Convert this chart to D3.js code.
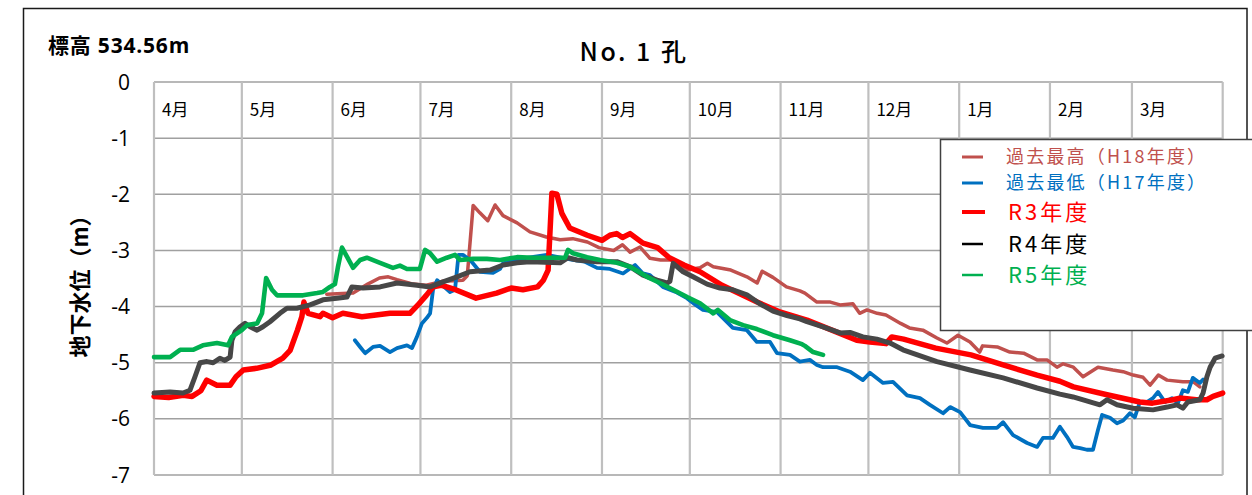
<!DOCTYPE html>
<html><head><meta charset="utf-8">
<script src="https://cdn.jsdelivr.net/npm/d3@7"></script>
<style>
body{margin:0;background:#fff;}
svg{display:block;font-family:"Noto Sans CJK JP","Noto Sans",sans-serif;}
</style></head><body>
<svg id="c" width="1252" height="495"></svg>
<script>
// ---- data ----
const monthLabels = ["4月","5月","6月","7月","8月","9月","10月","11月","12月","1月","2月","3月"];
const monthDays = [30,31,30,31,31,30,31,30,31,31,28,31];
const yTicks = [0,-1,-2,-3,-4,-5,-6,-7];
const seriesNames = ["過去最高（H18年度）","過去最低（H17年度）","R3年度","R4年度","R5年度"];

// [day from Apr 1, level (m)]
const h18 = [[59,-3.78],[68,-3.76],[73,-3.6],[77,-3.49],[80,-3.47],[83,-3.52],[88.5,-3.6],[93,-3.62],[98.7,-3.55],[105.5,-3.53],[107,-3.45],[109,-2.2],[111.3,-2.33],[114,-2.47],[116.5,-2.19],[119.2,-2.38],[124,-2.51],[128.4,-2.67],[134,-2.76],[138.7,-2.81],[143,-2.79],[148,-2.85],[152,-2.95],[157,-3.0],[160,-2.9],[162.6,-3.03],[166,-2.94],[169.4,-3.14],[173,-3.17],[177,-3.17],[182,-3.35],[186.5,-3.31],[189,-3.23],[191,-3.29],[197,-3.35],[202.5,-3.47],[206,-3.58],[207.7,-3.37],[211.4,-3.48],[216,-3.65],[220.6,-3.72],[222.3,-3.76],[226.4,-3.92],[231,-3.92],[234.3,-3.97],[238.7,-3.95],[241,-4.12],[243.5,-4.06],[247,-4.12],[250,-4.15],[255,-4.3],[258,-4.38],[262.6,-4.42],[267.4,-4.56],[270.8,-4.65],[274.6,-4.51],[278.7,-4.63],[282,-4.81],[283,-4.7],[288,-4.72],[292.3,-4.81],[297,-4.83],[301.6,-4.95],[305,-4.95],[308.4,-5.08],[310.5,-5.02],[314,-5.08],[317.3,-5.25],[322.4,-5.08],[327.5,-5.13],[331,-5.16],[334.4,-5.22],[337.8,-5.26],[340.2,-5.4],[343,-5.22],[346,-5.31],[351.4,-5.34],[355,-5.34],[357.2,-5.43]];

const h17 = [[68.6,-4.6],[70.4,-4.72],[72.1,-4.83],[74.8,-4.72],[77.2,-4.7],[80.6,-4.81],[83,-4.74],[86.4,-4.69],[88.1,-4.74],[89.8,-4.54],[91.5,-4.3],[93.2,-4.2],[94.3,-4.12],[95.3,-3.7],[96.7,-3.53],[98.7,-3.63],[101.1,-3.74],[102.8,-3.7],[104,-3.08],[105.5,-3.08],[108,-3.17],[111.3,-3.38],[115.8,-3.4],[118.2,-3.33],[119.2,-3.23],[125,-3.15],[134.2,-3.08],[143,-3.17],[147,-3.2],[151.3,-3.31],[155.7,-3.33],[160.2,-3.41],[164.3,-3.26],[167,-3.41],[169.4,-3.44],[173.8,-3.65],[178.6,-3.75],[182,-3.85],[185,-3.97],[187.5,-4.06],[192.3,-4.1],[197.7,-4.38],[202.5,-4.42],[205.9,-4.63],[210.4,-4.63],[212.8,-4.83],[217.2,-4.86],[220.6,-4.98],[224,-4.95],[226.4,-5.04],[228.5,-5.08],[233.3,-5.08],[237.7,-5.16],[242.1,-5.31],[244.5,-5.18],[249,-5.36],[252.4,-5.34],[257.2,-5.58],[261.6,-5.63],[265,-5.75],[269.5,-5.9],[271.9,-5.79],[275.3,-5.88],[278.7,-6.11],[283.1,-6.16],[287.9,-6.16],[290,-6.06],[293.4,-6.29],[298.2,-6.43],[301.6,-6.5],[303.6,-6.34],[307,-6.34],[309.4,-6.14],[311.8,-6.32],[313.9,-6.5],[316.3,-6.52],[318.6,-6.55],[320.7,-6.55],[322.4,-6.2],[323.8,-5.93],[326.5,-5.98],[328.9,-6.08],[331,-6.03],[333.3,-5.9],[335,-5.97],[336.7,-5.7],[339.1,-5.7],[341.2,-5.63],[342.9,-5.52],[345.3,-5.7],[347.7,-5.63],[349.7,-5.72],[351.4,-5.49],[353.1,-5.52],[354.8,-5.27],[357.2,-5.36],[358.3,-5.3]];

const r3 = [[0,-5.6],[5,-5.62],[10,-5.58],[13,-5.6],[16,-5.5],[18,-5.31],[21.5,-5.4],[26,-5.4],[28,-5.25],[30.5,-5.13],[35,-5.1],[40,-5.04],[44,-4.92],[46.5,-4.78],[49,-4.42],[50.5,-4.18],[51.2,-3.92],[52.6,-4.12],[56.7,-4.18],[57.7,-4.12],[61,-4.2],[64.5,-4.12],[71,-4.18],[80.6,-4.12],[87.4,-4.12],[90,-3.98],[93,-3.8],[95.3,-3.65],[98,-3.62],[103,-3.7],[110,-3.85],[117,-3.76],[122,-3.67],[126,-3.7],[131,-3.65],[133,-3.53],[134.6,-3.35],[135.9,-1.98],[137.6,-2.0],[139.3,-2.34],[142,-2.6],[148,-2.73],[153,-2.82],[155.7,-2.73],[158,-2.7],[160,-2.77],[162.6,-2.7],[167,-2.87],[172,-2.95],[176,-3.13],[181,-3.26],[186.5,-3.38],[194,-3.62],[206,-3.92],[214,-4.1],[223,-4.24],[233,-4.45],[240,-4.6],[244.5,-4.63],[250,-4.66],[252,-4.54],[256,-4.58],[267,-4.74],[279,-4.86],[290,-5.04],[301.6,-5.22],[309.4,-5.33],[314,-5.43],[325.5,-5.57],[336.7,-5.7],[341,-5.72],[348,-5.66],[350.4,-5.63],[356,-5.66],[359.6,-5.66],[361.7,-5.6],[365,-5.54]];

const r4 = [[0,-5.54],[5.5,-5.52],[9.9,-5.54],[12.3,-5.49],[14,-5.25],[15.7,-5.0],[18.1,-4.98],[20.2,-5.0],[22.5,-4.92],[24.2,-4.96],[26,-4.9],[26.6,-4.6],[27.7,-4.45],[29.4,-4.36],[31.1,-4.3],[32.8,-4.36],[35.2,-4.42],[37.2,-4.36],[39.6,-4.27],[43,-4.12],[45.4,-4.03],[48.8,-4.03],[53.3,-3.97],[57.7,-3.88],[62.5,-3.85],[65.9,-3.83],[67.6,-3.65],[71.4,-3.67],[77.2,-3.65],[83,-3.58],[89.8,-3.62],[94.3,-3.65],[98.7,-3.56],[103.5,-3.47],[107.9,-3.38],[114.8,-3.35],[119.2,-3.26],[124,-3.22],[128.4,-3.2],[138.7,-3.22],[141.4,-3.13],[144.5,-3.17],[151.3,-3.2],[158.1,-3.2],[162.6,-3.29],[167,-3.44],[171.8,-3.53],[175.2,-3.58],[176.2,-3.55],[177.3,-3.23],[180.7,-3.38],[184.1,-3.47],[188.9,-3.6],[193.3,-3.67],[197.7,-3.7],[202.5,-3.79],[206.9,-3.95],[211.4,-4.08],[216.2,-4.16],[220.6,-4.22],[223,-4.27],[228.5,-4.36],[234.3,-4.47],[237.7,-4.46],[242.1,-4.54],[246.9,-4.58],[251.4,-4.65],[255.8,-4.77],[267.4,-4.98],[278.7,-5.13],[290,-5.27],[301.6,-5.45],[309.4,-5.56],[313.9,-5.61],[323.1,-5.75],[325.5,-5.66],[328.9,-5.75],[334.4,-5.81],[341.2,-5.84],[346,-5.79],[349.4,-5.75],[351.4,-5.81],[353.1,-5.7],[357.2,-5.66],[358.3,-5.54],[359.6,-5.25],[360.7,-5.08],[362.4,-4.92],[364.8,-4.88]];

const r5 = [[0,-4.9],[5.5,-4.9],[8.9,-4.77],[13.3,-4.77],[16.7,-4.69],[21.5,-4.65],[25.3,-4.69],[26.6,-4.54],[30,-4.42],[31.8,-4.33],[35.2,-4.3],[36.9,-4.12],[38.3,-3.49],[40.3,-3.7],[42,-3.8],[46.4,-3.8],[50.9,-3.8],[55.7,-3.76],[57.7,-3.74],[60.1,-3.65],[61.8,-3.6],[62.8,-3.3],[64.2,-2.95],[65.9,-3.11],[68,-3.31],[70.4,-3.17],[72.7,-3.13],[77.2,-3.22],[81.6,-3.31],[84,-3.27],[86.4,-3.33],[90.8,-3.33],[92.6,-2.99],[94.3,-3.05],[96.7,-3.2],[100,-3.13],[102.8,-3.08],[104.5,-3.17],[109,-3.15],[113.7,-3.15],[118.2,-3.17],[124,-3.12],[129.4,-3.13],[136.3,-3.13],[140.4,-3.13],[141.4,-2.99],[143.1,-3.05],[147.9,-3.12],[152.3,-3.17],[158.1,-3.22],[162.6,-3.29],[168.4,-3.47],[172.8,-3.58],[177.3,-3.7],[182.1,-3.83],[186.5,-3.94],[191,-4.12],[192.6,-4.06],[196.7,-4.24],[201.2,-4.33],[205.9,-4.4],[211.4,-4.51],[217.2,-4.6],[221.3,-4.67],[222.3,-4.7],[225.1,-4.81],[228.5,-4.86]];

// ---- chart ----
const svg = d3.select("#c");
const L = 154, R = 1222.7, T = 82, B = 475;
const totalDays = d3.sum(monthDays);
const x = d3.scaleLinear().domain([0,totalDays]).range([L,R]);
const y = d3.scaleLinear().domain([0,-7]).range([T,B]);
const monthStarts = [0]; monthDays.forEach((d,i)=>monthStarts.push(monthStarts[i]+d));

// outer frame
svg.append("rect").attr("x",23.5).attr("y",8.5).attr("width",1223.5).attr("height",520)
  .attr("fill","none").attr("stroke","#1a1a1a").attr("stroke-width",1.5);

// horizontal grid
svg.append("g").selectAll("line").data(yTicks).join("line")
  .attr("x1",L).attr("x2",R).attr("y1",d=>y(d)).attr("y2",d=>y(d))
  .attr("stroke","#a0a0a0").attr("stroke-width",1.5);
// vertical grid
svg.append("g").selectAll("line").data(monthStarts).join("line")
  .attr("x1",d=>x(d)).attr("x2",d=>x(d)).attr("y1",T).attr("y2",B)
  .attr("stroke","#bfbfbf").attr("stroke-width",2.2);

// y tick labels
svg.append("g").selectAll("text").data(yTicks).join("text")
  .attr("x",130).attr("y",d=>y(d)).attr("dy","0.36em").attr("text-anchor","end")
  .attr("font-size",21).attr("font-family","'Open Sans','Noto Sans',sans-serif").attr("fill","#000").text(d=>String(d));

// month labels
svg.append("g").selectAll("text").data(monthLabels).join("text")
  .attr("x",(d,i)=>x(monthStarts[i])+8).attr("y",y(-0.5)).attr("dy","0.36em")
  .attr("font-size",17).attr("fill","#000").text(d=>d);

// title etc
svg.append("text").attr("x",634).attr("y",52).attr("dy","0.36em").attr("text-anchor","middle")
  .attr("font-size",25).attr("font-weight",500).attr("letter-spacing",2.5).text("No. 1 孔");
svg.append("text").attr("x",48).attr("y",45).attr("dy","0.36em")
  .attr("font-size",21).attr("font-weight","bold").attr("letter-spacing",0.8)
  .attr("font-family","'Open Sans','Noto Sans CJK JP',sans-serif").text("標高 534.56m");
svg.append("text").attr("transform","translate(80,281) rotate(-90)").attr("dy","0.36em")
  .attr("text-anchor","middle").attr("font-size",22).attr("font-weight","bold").text("地下水位（m）");

// lines
const line = d3.line().x(d=>x(d[0])).y(d=>y(d[1]));
const series = [
  {data:h18, color:"#c0504d", w:3.5},
  {data:h17, color:"#0070c0", w:3.8},
  {data:r3,  color:"#ff0000", w:5.5},
  {data:r4,  color:"#474747", w:5},
  {data:r5,  color:"#00b050", w:4.6}
];
svg.append("g").selectAll("path").data(series).join("path")
  .attr("d",d=>line(d.data)).attr("fill","none").attr("stroke",d=>d.color)
  .attr("stroke-width",d=>d.w).attr("stroke-linejoin","round").attr("stroke-linecap","round");

// legend
const lg = svg.append("g");
lg.append("rect").attr("x",940.5).attr("y",139.5).attr("width",340).attr("height",191)
  .attr("fill","#fff").attr("stroke","#404040").attr("stroke-width",1.5);
const legendColors = ["#c0504d","#0070c0","#ff0000","#000000","#00b050"];
const legendSizes = [18,18,22,22,22];
const legendSpacing = [2.2,2.2,3,3,3];
const legendY = [157,183,212,244,275];
const legendW = [3,3,4,2.5,2.5];
seriesNames.forEach((n,i)=>{
  lg.append("line").attr("x1",962).attr("x2",i===2?985:983).attr("y1",legendY[i]).attr("y2",legendY[i])
    .attr("stroke",legendColors[i]).attr("stroke-width",legendW[i]);
  lg.append("text").attr("x",i<2?1006:1008).attr("y",legendY[i]).attr("dy","0.36em")
    .attr("font-size",legendSizes[i]).attr("letter-spacing",legendSpacing[i])
    .attr("fill",legendColors[i]).text(n);
});
</script>
</body></html>
